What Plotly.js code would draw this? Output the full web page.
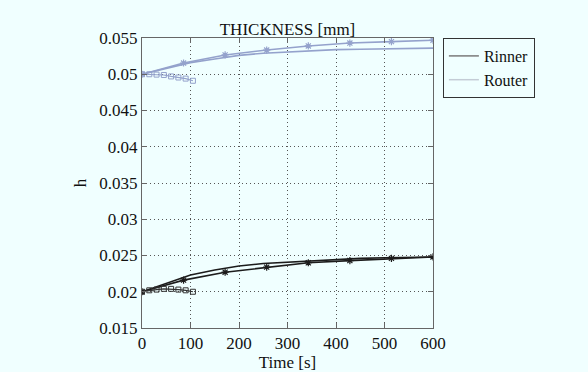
<!DOCTYPE html>
<html>
<head>
<meta charset="utf-8">
<script src="https://cdn.plot.ly/plotly-3.0.1.min.js"></script>
<style>html,body{margin:0;padding:0;background:#f0ffff;}#chart{width:588px;height:372px;}</style>
</head>
<body>
<div id="chart"></div>
<script>
// Time grids [s]
const tSmooth = [0, 25, 50, 75, 100, 150, 200, 250, 300, 350, 400, 450, 500, 550, 600];
const tStar = [0, 85.7, 171.4, 257.1, 342.9, 428.6, 514.3, 600];
const tSquare = [0, 15, 30, 45, 60, 75, 90, 105];

// Rinner series
const rinnerSmooth = [0.0200, 0.0206, 0.0212, 0.0218, 0.0223, 0.0230, 0.02355, 0.0239, 0.0241, 0.0243, 0.0245, 0.0246, 0.0247, 0.02475, 0.0248];
const rinnerStar = [0.0200, 0.0216, 0.0227, 0.0234, 0.0240, 0.0243, 0.0246, 0.0248];
const rinnerSquare = [0.0200, 0.0202, 0.0203, 0.0204, 0.0204, 0.0203, 0.0202, 0.0200];

// Router series
const routerSmooth = [0.0500, 0.0504, 0.0508, 0.0512, 0.0516, 0.0521, 0.0526, 0.0529, 0.0531, 0.0533, 0.0534, 0.05345, 0.0535, 0.05355, 0.0536];
const routerStar = [0.0500, 0.05155, 0.05266, 0.05334, 0.0539, 0.0543, 0.0545, 0.0547];
const routerSquare = [0.0500, 0.0500, 0.04995, 0.0499, 0.0497, 0.04955, 0.0494, 0.0491];

const yTicks = [0.015, 0.02, 0.025, 0.03, 0.035, 0.04, 0.045, 0.05, 0.055];
const yTickText = ['0.015', '0.02', '0.025', '0.03', '0.035', '0.04', '0.045', '0.05', '0.055'];
const xTicks = [0, 100, 200, 300, 400, 500, 600];

const cInner = '#1c1c1c';
const cOuter = '#94a2cc';
const font = '"Liberation Serif", "Times New Roman", serif';
const tf = {family: font, size: 17, color: '#111'};
const lf = {family: font, size: 16, color: '#111'};

const traces = [
  {x: tSmooth, y: routerSmooth, mode: 'lines', line: {color: cOuter, width: 1.6}, showlegend: false},
  {x: tStar, y: routerStar, mode: 'lines+markers', line: {color: cOuter, width: 1.6},
   marker: {symbol: 'asterisk-open', size: 6, color: cOuter, line: {color: cOuter, width: 1.2}}, showlegend: false},
  {x: tSquare, y: routerSquare, mode: 'lines+markers', line: {color: cOuter, width: 1.2},
   marker: {symbol: 'square-open', size: 5, color: cOuter, line: {color: cOuter, width: 1}}, showlegend: false},
  {x: tSmooth, y: rinnerSmooth, mode: 'lines', line: {color: cInner, width: 1.6}, showlegend: false},
  {x: tStar, y: rinnerStar, mode: 'lines+markers', line: {color: cInner, width: 1.6},
   marker: {symbol: 'asterisk-open', size: 6, color: cInner, line: {color: cInner, width: 1.2}}, showlegend: false},
  {x: tSquare, y: rinnerSquare, mode: 'lines+markers', line: {color: '#333', width: 1.2},
   marker: {symbol: 'square-open', size: 5, color: '#333', line: {color: '#333', width: 1}}, showlegend: false},
  {x: [null], y: [null], mode: 'lines', name: 'Rinner', line: {color: '#7a7a7a', width: 1.5}},
  {x: [null], y: [null], mode: 'lines', name: 'Router', line: {color: '#c4ccd6', width: 1.5}}
];

const layout = {
  width: 588, height: 372,
  paper_bgcolor: '#f0ffff', plot_bgcolor: '#f0ffff',
  margin: {l: 142, r: 155, t: 38, b: 44},
  font: tf,
  title: {text: 'THICKNESS [mm]', x: 0.5, xref: 'paper', xanchor: 'center',
          y: 1, yref: 'paper', yanchor: 'bottom', pad: {b: 3}, font: tf},
  xaxis: {range: [0, 600], tickvals: xTicks, ticktext: xTicks.map(String), tickfont: tf,
          showgrid: true, gridcolor: '#555', griddash: '1px,3px', gridwidth: 1,
          zeroline: false, showline: true, linecolor: '#666', linewidth: 1, mirror: 'ticks',
          ticks: 'inside', ticklen: 5, tickcolor: '#666',
          title: {text: 'Time [s]', standoff: 5, font: tf}},
  yaxis: {range: [0.015, 0.055], tickvals: yTicks, ticktext: yTickText, tickfont: tf,
          showgrid: true, gridcolor: '#555', griddash: '1px,3px', gridwidth: 1,
          zeroline: false, showline: true, linecolor: '#666', linewidth: 1, mirror: 'ticks',
          ticks: 'inside', ticklen: 5, tickcolor: '#666',
          title: {text: 'h', standoff: 8, font: tf}},
  legend: {x: 1.034, xanchor: 'left', y: 1, yanchor: 'top', bgcolor: '#f0ffff',
           bordercolor: '#333', borderwidth: 1, font: lf,
           itemwidth: 30, tracegroupgap: 0},
  showlegend: true
};

Plotly.newPlot('chart', traces, layout, {displayModeBar: false, staticPlot: true});
</script>
</body>
</html>
